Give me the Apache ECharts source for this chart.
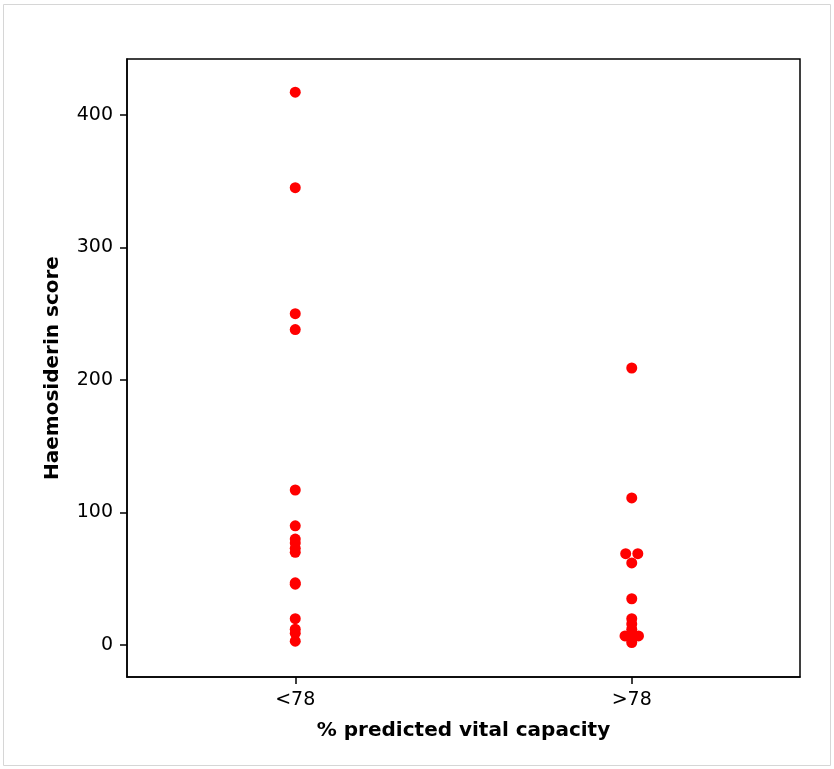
<!DOCTYPE html>
<html>
<head>
<meta charset="utf-8">
<script src="https://cdn.jsdelivr.net/npm/echarts@6/dist/echarts.min.js"></script>
<style>
  html, body { margin: 0; padding: 0; background: #fff; }
  #chart { width: 834px; height: 769px; }
</style>
</head>
<body>
<div id="chart"></div>
<script>
const categories = ["<78", ">78"];
const yTicks = [0, 100, 200, 300, 400];

// haemosiderin scores per group, with small horizontal jitter (category units)
const lowValues = [417, 345, 250, 238, 117, 90, 80, 77, 73, 70, 47, 46, 20, 12, 9, 3];
const lowJitter = [0, 0, 0, 0, 0, 0, 0, 0, 0, 0, 0, 0, 0, 0, 0, 0];
const highValues = [209, 111, 69, 69, 62, 35, 20, 16, 12, 9, 7, 7, 7, 6, 4, 2];
const highJitter = [0, 0, -0.018, 0.018, 0, 0, 0, 0, 0, 0, -0.02, 0, 0.02, 0, 0, 0];

const toPoints = (xPos, values, jitter) =>
  values.map((v, i) => [xPos + jitter[i], v]);

const chart = echarts.init(document.getElementById("chart"));

const font = "DejaVu Sans";
const axisFont = { fontSize: 20, fontWeight: "bold", color: "#000", fontFamily: font };
const lineStyle = { color: "#000", width: 1.5 };

chart.setOption({
  animation: false,
  textStyle: { fontFamily: font },
  graphic: [
    {
      type: "rect",
      shape: { x: 3.5, y: 4.5, width: 827, height: 761 },
      style: { fill: "none", stroke: "#d6d6d6", lineWidth: 1 },
    },
  ],
  grid: {
    left: 127,
    top: 59,
    right: 34,
    bottom: 92,
    show: true,
    borderColor: "#000",
    borderWidth: 1.5,
    backgroundColor: "transparent",
  },
  xAxis: [
    {
      // category axis with the labels
      type: "category",
      data: categories,
      boundaryGap: true,
      name: "% predicted vital capacity",
      nameLocation: "middle",
      nameGap: 44,
      nameTextStyle: axisFont,
      axisLine: { show: true, onZero: false, lineStyle },
      axisTick: { show: false },
      axisLabel: { fontSize: 19, color: "#000", margin: 14 },
      splitLine: { show: false },
    },
    {
      // hidden value axis for jittered points
      type: "value",
      min: 0.5,
      max: 2.5,
      show: false,
    },
    {
      // tick-only copy of the category axis
      type: "category",
      data: categories,
      boundaryGap: true,
      position: "bottom",
      axisLine: { show: false, onZero: false },
      axisTick: { show: true, alignWithLabel: true, length: 7, lineStyle },
      axisLabel: { show: false },
      splitLine: { show: false },
    },
  ],
  yAxis: [
    {
      type: "value",
      min: -24,
      max: 442,
      name: "Haemosiderin score",
      nameLocation: "middle",
      nameGap: 64,
      nameTextStyle: axisFont,
      axisLine: { show: true, onZero: false, lineStyle },
      axisTick: { show: false },
      axisLabel: { customValues: yTicks, fontSize: 19, color: "#000", margin: 14 },
      splitLine: { show: false },
    },
    {
      // tick-only copy of the value axis
      type: "value",
      min: -24,
      max: 442,
      position: "left",
      axisLine: { show: false, onZero: false },
      axisTick: { show: true, customValues: yTicks, length: 7, lineStyle },
      axisLabel: { show: false },
      splitLine: { show: false },
    },
  ],
  series: [
    {
      name: categories[0],
      type: "scatter",
      xAxisIndex: 1,
      yAxisIndex: 0,
      symbolSize: 11,
      itemStyle: { color: "#ff0000", opacity: 1 },
      data: toPoints(1, lowValues, lowJitter),
    },
    {
      name: categories[1],
      type: "scatter",
      xAxisIndex: 1,
      yAxisIndex: 0,
      symbolSize: 11,
      itemStyle: { color: "#ff0000", opacity: 1 },
      data: toPoints(2, highValues, highJitter),
    },
  ],
});
</script>
</body>
</html>
